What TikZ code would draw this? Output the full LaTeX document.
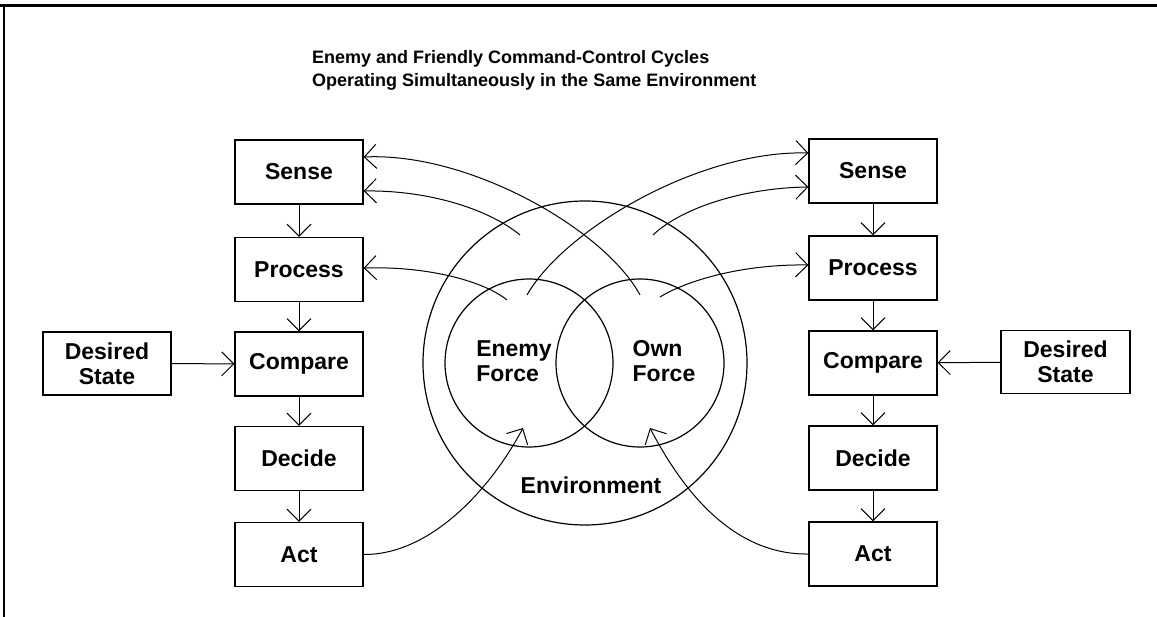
\documentclass[tikz,border=0pt]{standalone}
\usepackage{fontspec}
\setmainfont{Liberation Sans}
\usetikzlibrary{arrows.meta}
\begin{document}
\begin{tikzpicture}[x=1pt,y=-1pt,
  box/.style={draw, line width=1.2pt, minimum width=128pt, minimum height=64pt, inner sep=0pt, font=\fontsize{23}{25}\selectfont\bfseries, align=center},
  lbl/.style={font=\fontsize{23}{25}\selectfont\bfseries, inner sep=0pt},
  ttl/.style={font=\fontsize{18}{23}\selectfont\bfseries, inner sep=0pt, anchor=base west},
  arr/.style={line width=1pt, -{Straight Barb[length=12pt,width=24pt]}},
  ring/.style={draw, circle, line width=1.2pt, inner sep=0pt},
  frameline/.style={line width=3pt}]
\useasboundingbox (0,0) rectangle (1157,617);
% frame
\coordinate (f1) at (0,6);
\coordinate (f2) at (1157,6);
\coordinate (f3) at (4,6);
\coordinate (f4) at (4,617);
\draw[frameline] (f1) -- (f2);
\draw[line width=2.5pt] (f3) -- (f4);
% title
\node[ttl] (t1) at (312,64) {Enemy and Friendly Command-Control Cycles};
\node[ttl] (t2) at (312,87) {Operating Simultaneously in the Same Environment};
% circles
\node[ring, minimum size=324pt] (env) at (585,363) {};
\node[ring, minimum size=168pt] (enemy) at (529,363) {};
\node[ring, minimum size=168pt] (own) at (640,363) {};
\node[lbl, align=left] (enemyt) at (514,361) {Enemy\\Force};
\node[lbl, align=left] (ownt) at (664,361) {Own\\Force};
\node[lbl] (envt) at (591,485) {Environment};
% left cycle
\node[box] (ls) at (299,172) {Sense};
\node[box] (lp) at (299,269.5) {Process};
\node[box] (lc) at (299,364) {Compare};
\node[box] (ld) at (299,458.5) {Decide};
\node[box] (la) at (299,554.5) {Act};
\node[box, minimum height=63pt] (lds) at (107,363.5) {Desired\\State};
% right cycle
\node[box] (rs) at (873,171) {Sense};
\node[box] (rp) at (873,268) {Process};
\node[box] (rc) at (873,363) {Compare};
\node[box] (rd) at (873,458) {Decide};
\node[box] (ra) at (873,554) {Act};
\node[box, minimum width=129pt, minimum height=63pt] (rds) at (1065.5,362) {Desired\\State};
% vertical arrows
\draw[arr] (ls) -- (lp);
\draw[arr] (lp) -- (lc);
\draw[arr] (lc) -- (ld);
\draw[arr] (ld) -- (la);
\draw[arr] (rs) -- (rp);
\draw[arr] (rp) -- (rc);
\draw[arr] (rc) -- (rd);
\draw[arr] (rd) -- (ra);
\draw[arr] (lds) -- (lc);
\draw[arr] (rds) -- (rc);
% curve end points
\coordinate (a0) at (640,295);
\coordinate (b0) at (520,235);
\coordinate (c0) at (507,300);
\coordinate (d0) at (527,295);
\coordinate (e0) at (653,235);
\coordinate (g0) at (660,297);
\coordinate (h1) at (523,428);
\coordinate (h2) at (650,428);
% curves to left cycle
\draw[arr] (a0) .. controls (605,230) and (470,152) .. ([yshift=15pt]ls.east);
\draw[arr] (b0) .. controls (490,210) and (430,190) .. ([yshift=-19pt]ls.east);
\draw[arr] (c0) .. controls (485,282) and (430,266) .. ([yshift=1.5pt]lp.east);
% curves to right cycle
\draw[arr] (d0) .. controls (564,230) and (699,150) .. ([yshift=18pt]rs.west);
\draw[arr] (e0) .. controls (679,210) and (739,188) .. ([yshift=-16pt]rs.west);
\draw[arr] (g0) .. controls (684,282) and (739,264) .. ([yshift=3pt]rp.west);
% act curves
\draw[arr] (la.east) .. controls (430,555) and (490,490) .. (h1);
\draw[arr] (ra.west) .. controls (742,555) and (690,505) .. (h2);
\end{tikzpicture}
\end{document}
